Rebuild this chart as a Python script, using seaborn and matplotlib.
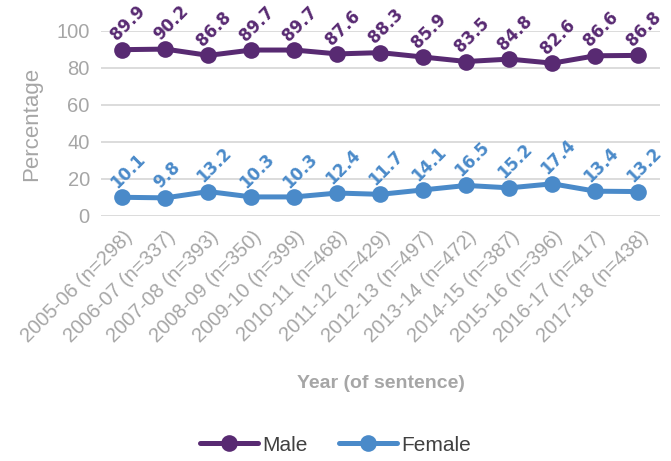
import matplotlib
matplotlib.use("Agg")
import matplotlib.pyplot as plt
import seaborn as sns
import pandas as pd

years = ["2005-06 (n=298)", "2006-07 (n=337)", "2007-08 (n=393)", "2008-09 (n=350)",
         "2009-10 (n=399)", "2010-11 (n=468)", "2011-12 (n=429)", "2012-13 (n=497)",
         "2013-14 (n=472)", "2014-15 (n=387)", "2015-16 (n=396)", "2016-17 (n=417)",
         "2017-18 (n=438)"]
male = [89.9, 90.2, 86.8, 89.7, 89.7, 87.6, 88.3, 85.9, 83.5, 84.8, 82.6, 86.6, 86.8]
female = [10.1, 9.8, 13.2, 10.3, 10.3, 12.4, 11.7, 14.1, 16.5, 15.2, 17.4, 13.4, 13.2]
series = ["Male", "Female"]
colors = {"Male": "#582a72", "Female": "#4a8ac9"}

sns.set_theme(style="white")
plt.rcParams["font.family"] = ["Liberation Sans", "DejaVu Sans"]
grey = "#a6a6a6"

df = pd.DataFrame({
    "year": years * 2,
    "value": male + female,
    "sex": ["Male"] * len(years) + ["Female"] * len(years),
})

fig = plt.figure(figsize=(6.71, 4.61), dpi=100)
ax = fig.add_axes([0.1505, 0.5315, 0.833, 0.4013])

sns.lineplot(data=df, x="year", y="value", hue="sex", hue_order=series,
             palette=colors, marker="o", markersize=12, linewidth=3.6,
             markeredgewidth=0, ax=ax, sort=False, clip_on=False)

ax.set_ylim(0, 100)
ax.set_xlim(-0.5, len(years) - 0.5)
ax.set_yticks(range(0, 101, 20))
ax.yaxis.grid(True, color="#d9d9d9", linewidth=1.3)
ax.set_axisbelow(True)
for s in ax.spines.values():
    s.set_visible(False)
ax.tick_params(axis="y", labelsize=14.5, labelcolor=grey, length=0, pad=8)
ax.tick_params(axis="x", labelsize=14.5, labelcolor=grey, length=0, pad=8)
ax.set_xticks(range(len(years)))
ax.set_xticklabels(years, rotation=45, ha="right", rotation_mode="anchor")

ax.set_ylabel("Percentage", fontsize=16, color=grey, labelpad=10)
ax.set_xlabel("Year (of sentence)", fontsize=14, fontweight="bold", color=grey, labelpad=21)

for name, vals in (("Male", male), ("Female", female)):
    for i, v in enumerate(vals):
        ax.annotate(f"{v:.1f}", (i, v), xytext=(-2, 4), textcoords="offset points",
                    rotation=45, rotation_mode="anchor", ha="left", va="bottom",
                    fontsize=12, fontweight="bold", color=colors[name],
                    fontfamily=["DejaVu Sans"])

handles, labels = ax.get_legend_handles_labels()
leg = ax.legend(handles, labels, loc="center", ncol=2, frameon=False, fontsize=15,
                handlelength=2.8, columnspacing=1.5, handletextpad=0.2,
                labelcolor="#404040")
leg.set_bbox_to_anchor((0.5, 1 - 445 / 461), transform=fig.transFigure)

fig.savefig("out.png", dpi=100)
